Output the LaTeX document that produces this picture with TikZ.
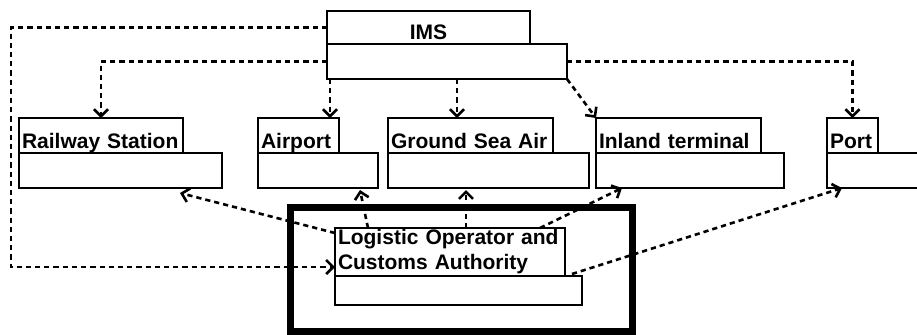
\documentclass[tikz,border=0pt]{standalone}
\usepackage{fontspec}
\setmainfont{Liberation Sans}
\usetikzlibrary{arrows.meta,calc}

\tikzset{
 uml/.style={draw, line width=1.1pt, anchor=north west, outer sep=0pt, inner sep=0pt, font=\fontsize{10.5}{12.5}\selectfont\bfseries},
 head/.style={uml, inner xsep=1.5pt, inner ysep=1pt, text height=14pt, text depth=1.5pt, align=left},
 body/.style={uml, minimum height=17.5pt},
 frame/.style={draw, line width=3.5pt, anchor=north west, outer sep=0pt},
 link/.style={line width=1.3pt, dash pattern=on 2.6pt off 2pt, -{Straight Barb[length=3.5pt,width=7pt]}},
}

\begin{document}
\begin{tikzpicture}[x=0.5pt,y=-0.5pt]
 \useasboundingbox (0,0) rectangle (917,334);

 \node[head, align=center, text width=98.5pt, text height=13pt] (imsT) at (327,11) {IMS}; % IMS
 \node[body, minimum width=120pt] (imsB) at (imsT.south west) {};

 \node[head, text width=79pt] (rsT) at (19,118) {Railway Station}; % 駅
 \node[body, minimum width=101.5pt] (rsB) at (rsT.south west) {};
 \node[head, text width=37.5pt] (apT) at (258,118) {Airport}; % 空港
 \node[body, minimum width=60pt] (apB) at (apT.south west) {};
 \node[head, text width=79.5pt] (gsaT) at (388,118) {Ground Sea Air};
 \node[body, minimum width=100.5pt] (gsaB) at (gsaT.south west) {};
 \node[head, text width=79.5pt] (itT) at (596,118) {Inland terminal};
 \node[body, minimum width=94pt] (itB) at (itT.south west) {};
 \node[head, text width=22.5pt] (ptT) at (827,118) {Port}; % 港
 \node[body, minimum width=50pt] (ptB) at (ptT.south west) {};

 \node[frame, minimum width=171pt, minimum height=62pt] (frm) at (290,207) {}; % 太枠
 \node[uml, align=left, text width=112pt, minimum height=24pt, inner xsep=1.5pt] (locT) at (335,228) {Logistic Operator and\\Customs Authority};
 \node[body, minimum width=123.5pt, minimum height=14.5pt] (locB) at (locT.south west) {};

 % IMS から
 \coordinate (bend) at (11,267);
 \coordinate (apOut) at ($(imsB.south west)+(3,0)$);
 \coordinate (gsaOut) at ($(imsB.south west)+(130,0)$);
 \draw[link] (imsT.west) -| (bend) -- (bend -| locT.west);
 \draw[link] (imsB.west) -| (rsT.north);
 \draw[link] (apOut) -- (apOut |- apT.north);
 \draw[link] (gsaOut) -- (gsaOut |- gsaT.north);
 \draw[link] (imsB.south east) -- (itT.north west);
 \draw[link] (imsB.east) -| (ptT.north);

 % Logistic Operator から
 \draw[link] ($(locT.north west)+(0,5)$) -- ($(rsB.south east)+(-42,5)$);
 \draw[link] ($(locT.north west)+(33,0)$) -- ($(apB.south west)+(102,2)$);
 \draw[link] ($(locT.north west)+(131,0)$) -- ($(gsaB.south west)+(78,2)$);
 \draw[link] ($(locT.north west)+(205,0)$) -- ($(itB.south west)+(26,0)$);
 \draw[link] ($(locB.north east)+(-10,-2)$) -- ($(ptB.south west)+(15,0)$);
\end{tikzpicture}
\end{document}
